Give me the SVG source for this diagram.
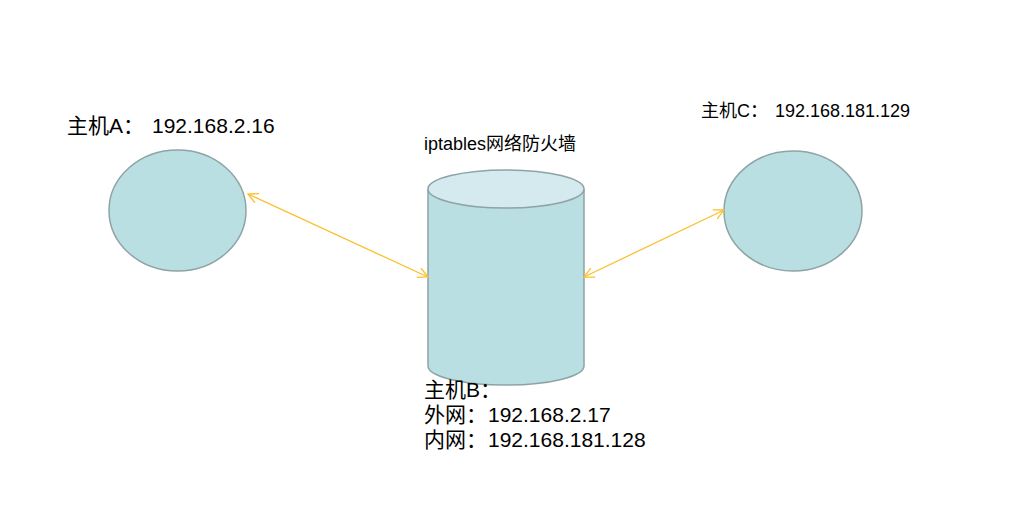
<svg xmlns="http://www.w3.org/2000/svg" width="1029" height="508" viewBox="0 0 1029 508">
<defs>
<style>
.shape{fill:#badfe3;stroke:#8ea3a5;stroke-width:1.5}
.top{fill:#d5eaee;stroke:#8ea3a5;stroke-width:1.5}
.conn{stroke:#fbc02d;stroke-width:1.3;fill:none}
text{font-family:"Liberation Sans","Noto Sans CJK SC",sans-serif;fill:#000}
.big{font-size:21px}
.small{font-size:18px}
</style>
<marker id="arr" viewBox="0 0 12 12" refX="11" refY="6" markerWidth="12" markerHeight="12" markerUnits="userSpaceOnUse" orient="auto-start-reverse">
<path d="M1,1 L11,6 L1,11" fill="none" stroke="#fbc02d" stroke-width="1.3"/>
</marker>
</defs>
<rect width="1029" height="508" fill="#fff"/>
<g id="nodeA">
<ellipse class="shape" cx="177.5" cy="210.5" rx="68.5" ry="60.5"/>
<text class="big" x="67" y="133">主机A：<tspan x="152">192.168.2.16</tspan></text>
</g>
<g id="nodeB">
<path class="shape" d="M428,189 L428,366 A78,19 0 0 0 584,366 L584,189"/>
<ellipse class="top" cx="506" cy="189" rx="78" ry="19"/>
<text class="small" x="424" y="150">iptables网络防火墙</text>
<text class="big" x="424" y="397">主机B：</text>
<text class="big" x="424" y="422">外网：<tspan x="488">192.168.2.17</tspan></text>
<text class="big" x="424" y="447">内网：<tspan x="488">192.168.181.128</tspan></text>
</g>
<g id="nodeC">
<ellipse class="shape" cx="793" cy="211" rx="69" ry="60"/>
<text class="small" x="701" y="117">主机C：<tspan x="775">192.168.181.129</tspan></text>
</g>
<g id="connectors">
<line class="conn" x1="248" y1="194" x2="428" y2="277" marker-start="url(#arr)" marker-end="url(#arr)"/>
<line class="conn" x1="584" y1="277" x2="724" y2="210" marker-start="url(#arr)" marker-end="url(#arr)"/>
</g>
</svg>
